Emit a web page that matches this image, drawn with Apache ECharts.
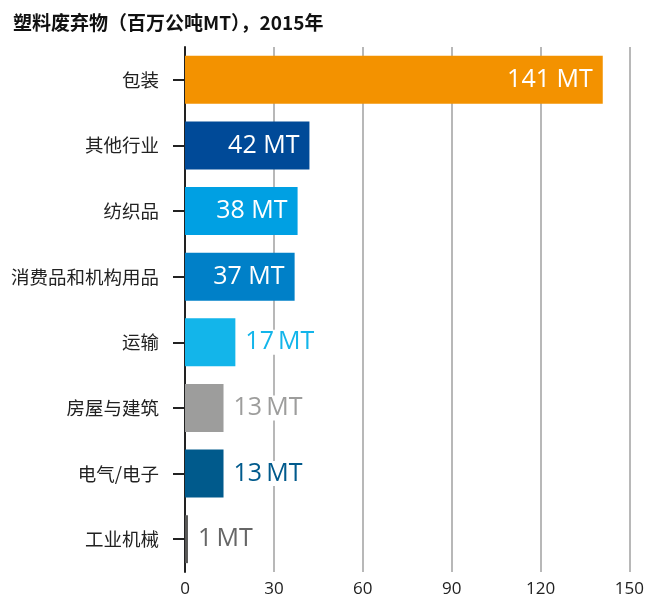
<!DOCTYPE html>
<html>
<head>
<meta charset="utf-8">
<script src="https://cdn.jsdelivr.net/npm/echarts@6/dist/echarts.min.js"></script>
<style>
  html, body { margin: 0; padding: 0; background: #fff; }
  #chart { width: 647px; height: 598px; }
</style>
</head>
<body>
<div id="chart"></div>
<script>
// 塑料废弃物 by sector, 2015 (million tonnes)
var categories = ['包装', '其他行业', '纺织品', '消费品和机构用品', '运输', '房屋与建筑', '电气/电子', '工业机械'];
var values = [141, 42, 38, 37, 17, 13, 13, 1];
var barColors = ['#f39200', '#004a98', '#00a0e3', '#0080c8', '#13b5ea', '#9d9d9c', '#005a8c', '#575756'];
var labelInside = [true, true, true, true, false, false, false, false];
var xTicks = [0, 30, 60, 90, 120, 150];

var FONT = '"Open Sans", "Noto Sans CJK SC", sans-serif';

function buildData() {
    var out = [];
    for (var i = 0; i < values.length; i++) {
        var inside = labelInside[i];
        out.push({
            value: values[i],
            itemStyle: {color: barColors[i]},
            label: {
                position: inside ? 'insideRight' : 'right',
                distance: inside ? 10 : 8,
                // outside labels use a thin space, like the original
                formatter: inside ? '{c} MT' : '{c}\u2009MT',
                color: inside ? '#fff' : (i === 7 ? '#666' : barColors[i]),
                backgroundColor: inside ? 'transparent' : '#fff',
                padding: inside ? 0 : [0, 2]
            }
        });
    }
    return out;
}

var chart = echarts.init(document.getElementById('chart'));
chart.setOption({
    animation: false,
    title: {
        text: '塑料废弃物（百万公吨MT），2015年',
        left: 8, top: 8,
        textStyle: {fontFamily: '"Noto Sans CJK SC", sans-serif', fontSize: 19, fontWeight: 'bold', color: '#111'}
    },
    grid: {left: 185, right: 14, top: 47, bottom: 26, containLabel: false},
    xAxis: {
        type: 'value',
        min: xTicks[0], max: xTicks[xTicks.length - 1], interval: 30,
        axisLine: {show: false},
        axisTick: {show: false},
        splitLine: {show: true, lineStyle: {color: '#b8b8b8', width: 2}},
        axisLabel: {fontFamily: FONT, fontSize: 17, color: '#222', margin: 9}
    },
    yAxis: {
        type: 'category',
        inverse: true,
        data: categories,
        axisLine: {show: true, lineStyle: {color: '#222', width: 2}},
        axisTick: {show: true, alignWithLabel: true, length: 12, lineStyle: {color: '#222', width: 2}},
        axisLabel: {fontFamily: '"Noto Sans CJK SC", sans-serif', fontSize: 18.5, color: '#222', margin: 26}
    },
    series: [{
        type: 'bar',
        data: buildData(),
        barCategoryGap: '27%',
        z: 3,
        label: {
            show: true,
            fontFamily: FONT,
            fontSize: 25
        }
    }]
});
</script>
</body>
</html>
